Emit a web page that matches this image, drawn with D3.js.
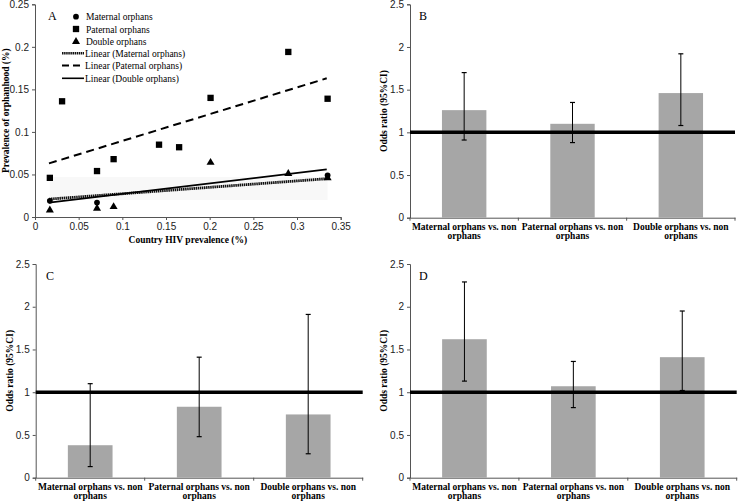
<!DOCTYPE html>
<html><head><meta charset="utf-8">
<script src="https://cdn.jsdelivr.net/npm/d3@7"></script>
<style>
body{margin:0;background:#fff;}
svg{display:block;font-family:"Liberation Serif","Times New Roman",serif;}
.tick text{font-size:10px;fill:#222;}
.domain,.tick line{stroke:#555;}
</style></head>
<body><svg id="c" width="738" height="501"></svg>
<script>
// ---- Panel A data ----
const paternalX = [0.017,0.031,0.071,0.09,0.142,0.165,0.201,0.29,0.335];
const paternalY = [0.046,0.136,0.054,0.068,0.085,0.082,0.140,0.194,0.139];
const maternalX = [0.017,0.071,0.335];
const maternalY = [0.019,0.017,0.049];
const doubleX = [0.017,0.071,0.09,0.201,0.29,0.335];
const doubleY = [0.008,0.010,0.012,0.064,0.051,0.046];
const trendX = [0.016,0.334];
const maternalTrend = [0.021,0.045];
const paternalTrend = [0.063,0.163];
const doubleTrend = [0.017,0.056];
const xTicksA = [0,0.05,0.1,0.15,0.2,0.25,0.3,0.35];
const yTicksA = [0,0.05,0.1,0.15,0.2,0.25];
const legendLabels = ["Maternal orphans","Paternal orphans","Double orphans","Linear (Maternal orphans)","Linear (Paternal orphans)","Linear (Double orphans)"];

// ---- Panels B, C, D data ----
const categories = ["Maternal orphans vs. non orphans","Paternal orphans vs. non orphans","Double orphans vs. non orphans"];
const catLine1 = ["Maternal orphans vs. non","Paternal orphans vs. non","Double orphans vs. non"];
const catLine2 = ["orphans","orphans","orphans"];
const orB = [1.26,1.10,1.46], loB = [0.91,0.88,1.08], hiB = [1.70,1.35,1.92];
const orC = [0.38,0.83,0.74], loC = [0.13,0.48,0.28], hiC = [1.10,1.41,1.91];
const orD = [1.62,1.07,1.41], loD = [1.13,0.82,1.02], hiD = [2.29,1.36,1.95];
const yTicksOR = [0,0.5,1,1.5,2,2.5];

const svg = d3.select("#c");

// ---- Panel A ----
(function(){
  const L=35, R=340.7, T=4.3, B=217;
  const x = d3.scaleLinear().domain([0,0.35]).range([L,R]);
  const y = d3.scaleLinear().domain([0,0.25]).range([B,T]);
  const g = svg.append("g");
  // faint background artifact
  g.append("rect").attr("x",x(0.017)).attr("y",y(0.047)).attr("width",x(0.335)-x(0.017))
    .attr("height",y(0.02)-y(0.047)).attr("fill","#f8f8f8");
  g.append("g").attr("transform",`translate(0,${B})`)
    .call(d3.axisBottom(x).tickValues(xTicksA).tickSize(3).tickFormat(d3.format("~g")));
  g.append("g").attr("transform",`translate(${L},0)`)
    .call(d3.axisLeft(y).tickValues(yTicksA).tickSize(3).tickFormat(d3.format("~g")));
  const ln = d3.line().x(d=>x(d[0])).y(d=>y(d[1]));
  g.append("path").attr("d",ln(trendX.map((v,i)=>[v,maternalTrend[i]])))
    .attr("stroke","#111").attr("stroke-width",2.8).attr("stroke-dasharray","1.5,0.6").attr("fill","none");
  g.append("path").attr("d",ln(trendX.map((v,i)=>[v,doubleTrend[i]])))
    .attr("stroke","#000").attr("stroke-width",1.8).attr("fill","none");
  g.append("path").attr("d",ln(trendX.map((v,i)=>[v,paternalTrend[i]])))
    .attr("stroke","#000").attr("stroke-width",2).attr("stroke-dasharray","8,5").attr("fill","none");
  const sq = d3.symbol().type(d3.symbolSquare).size(40);
  const ci = d3.symbol().type(d3.symbolCircle).size(26);
  const tr = d3.symbol().type(d3.symbolTriangle).size(28);
  g.selectAll(".pt").data(paternalX).join("path").attr("d",sq)
    .attr("transform",(d,i)=>`translate(${x(d)},${y(paternalY[i])})`).attr("fill","#000");
  g.selectAll(".dt").data(doubleX).join("path").attr("d",tr)
    .attr("transform",(d,i)=>`translate(${x(d)},${y(doubleY[i])})`).attr("fill","#000");
  g.selectAll(".mt").data(maternalX).join("path").attr("d",ci)
    .attr("transform",(d,i)=>`translate(${x(d)},${y(maternalY[i])})`).attr("fill","#000");
  g.append("text").attr("x",48).attr("y",20).attr("font-size",12).text("A");
  // legend
  const rows=[16.7,29,41.7,53.3,65.5,78.3];
  const syms=[ci,sq,tr];
  legendLabels.forEach((t,i)=>{
    if(i<3){
      g.append("path").attr("d",syms[i]).attr("transform",`translate(76,${rows[i]})`).attr("fill","#000");
      g.append("text").attr("x",86).attr("y",rows[i]+3.5).attr("font-size",9.5).text(t);
    } else {
      const st = g.append("line").attr("x1",62).attr("x2",84).attr("y1",rows[i]).attr("y2",rows[i]).attr("stroke","#000");
      if(i===3) st.attr("stroke-width",2.6).attr("stroke-dasharray","1.5,0.6").attr("stroke","#111");
      if(i===4) st.attr("stroke-width",2).attr("stroke-dasharray","7,4");
      if(i===5) st.attr("stroke-width",1.6);
      g.append("text").attr("x",85).attr("y",rows[i]+3.5).attr("font-size",9.5).text(t);
    }
  });
  g.append("text").attr("x",(L+R)/2).attr("y",243).attr("text-anchor","middle")
    .attr("font-size",9.5).attr("font-weight","bold").text("Country HIV prevalence (%)");
  g.append("text").attr("transform",`translate(9,${(T+B)/2}) rotate(-90)`).attr("text-anchor","middle")
    .attr("font-size",9.5).attr("font-weight","bold").text("Prevalence of orphanhood (%)");
})();

// ---- Bar panels ----
function barPanel(L,R,T,B,letter,letterX,vals,lo,hi){
  const x = d3.scaleBand().domain(categories).range([L,R]).paddingInner(0.59).paddingOuter(0.295);
  const y = d3.scaleLinear().domain([0,2.5]).range([B,T]);
  const g = svg.append("g");
  g.append("g").attr("transform",`translate(${L},0)`)
    .call(d3.axisLeft(y).tickValues(yTicksOR).tickSize(3).tickFormat(d3.format("~g")));
  g.append("g").attr("transform",`translate(0,${B})`)
    .call(d3.axisBottom(x).tickSize(0).tickFormat(""));
  const bounds = [0,1,2,3].map(i=>L+(R-L)*i/3);
  g.selectAll(".bt").data(bounds).join("line").attr("x1",d=>d).attr("x2",d=>d)
    .attr("y1",B).attr("y2",B+3).attr("stroke","#555");
  g.selectAll(".bar").data(categories).join("rect")
    .attr("x",d=>x(d)).attr("width",x.bandwidth())
    .attr("y",(d,i)=>y(vals[i])).attr("height",(d,i)=>y(0)-y(vals[i])).attr("fill","#a6a6a6");
  g.append("line").attr("x1",L).attr("x2",R).attr("y1",y(1)).attr("y2",y(1))
    .attr("stroke","#000").attr("stroke-width",3.5);
  categories.forEach((c,i)=>{
    const cx = x(c)+x.bandwidth()/2;
    g.append("line").attr("x1",cx).attr("x2",cx).attr("y1",y(lo[i])).attr("y2",y(hi[i])).attr("stroke","#000").attr("stroke-width",1);
    [lo[i],hi[i]].forEach(v=>g.append("line").attr("x1",cx-2.5).attr("x2",cx+2.5).attr("y1",y(v)).attr("y2",y(v)).attr("stroke","#000").attr("stroke-width",1.2));
    g.append("text").attr("x",cx).attr("y",B+12.5).attr("text-anchor","middle").attr("font-size",9.5).attr("font-weight","bold").text(catLine1[i]);
    g.append("text").attr("x",cx).attr("y",B+21.5).attr("text-anchor","middle").attr("font-size",9.5).attr("font-weight","bold").text(catLine2[i]);
  });
  g.append("text").attr("x",letterX).attr("y",T+16).attr("font-size",12).text(letter);
  g.append("text").attr("transform",`translate(${L-23},${(T+B)/2}) rotate(-90)`).attr("text-anchor","middle")
    .attr("font-size",9.5).attr("font-weight","bold").text("Odds ratio (95%CI)");
}
barPanel(410,735,4.3,217.7,"B",419,orB,loB,hiB);
barPanel(35.7,362.7,264,477.7,"C",46,orC,loC,hiC);
barPanel(410,736.7,264,477.7,"D",419,orD,loD,hiD);
</script></body></html>
